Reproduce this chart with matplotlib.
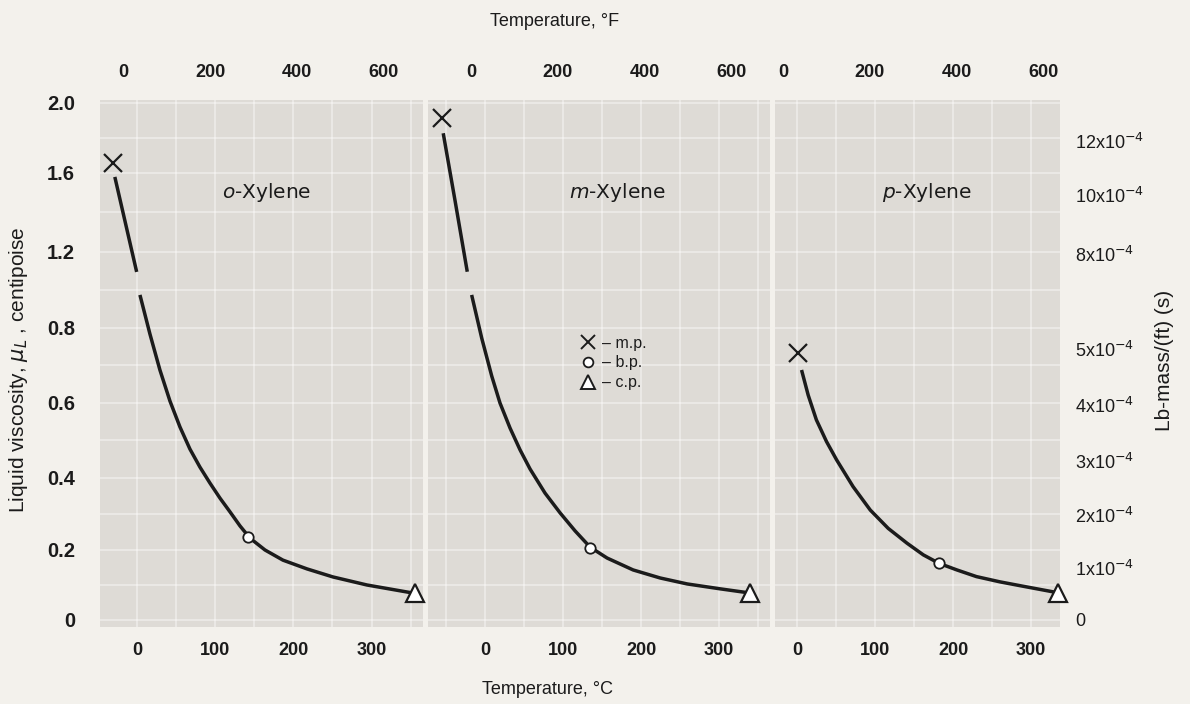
import numpy as np
import matplotlib
matplotlib.use("Agg")
import matplotlib.pyplot as plt
import matplotlib.font_manager as fm
from matplotlib.lines import Line2D
from matplotlib.ticker import FixedLocator, FixedFormatter, MultipleLocator

# ---------------- data ----------------
PANEL_PREFIX = ["o", "m", "p"]

# o-Xylene (temperature degC, viscosity cP); the drawn curve is broken near 1.0 cP
O_UP_T = [-29, -1]
O_UP_MU = [1.58, 1.095]
O_LO_T = [3.2, 16, 28.8, 41.7, 54.5, 67.3, 80.1, 92.9, 105.8, 118.6, 131.4, 144.2,
          163.5, 186.5, 217.3, 250.6, 294.2, 353.2]
O_LO_MU = [0.974, 0.784, 0.688, 0.605, 0.536, 0.477, 0.429, 0.386, 0.344, 0.306,
           0.267, 0.233, 0.200, 0.171, 0.146, 0.123, 0.100, 0.077]
O_MP = (-31, 1.657)
O_BP = (142, 0.236)
O_CP = (356, 0.077)

# m-Xylene
M_UP_T = [-53.5, -38.5, -22.7]
M_UP_MU = [1.827, 1.463, 1.096]
M_LO_T = [-17.1, -4.2, 8.6, 19.2, 32.1, 44.9, 57.7, 76.9, 96.2, 115.4, 134.6, 156.4,
          189.7, 224.4, 259.0, 301.3, 339.7]
M_LO_MU = [0.974, 0.773, 0.672, 0.600, 0.533, 0.475, 0.424, 0.358, 0.303, 0.253,
           0.208, 0.177, 0.143, 0.120, 0.103, 0.089, 0.077]
M_MP = (-55.5, 1.913)
M_BP = (135, 0.206)
M_CP = (340, 0.077)

# p-Xylene
P_T = [6, 14.5, 25, 38, 51, 72, 94, 117, 141, 162, 182, 205, 230, 260, 286, 334]
P_MU = [0.688, 0.621, 0.555, 0.497, 0.448, 0.376, 0.311, 0.260, 0.219, 0.186,
        0.162, 0.143, 0.124, 0.109, 0.098, 0.078]
P_MP = (2, 0.733)
P_BP = (182, 0.162)
P_CP = (334, 0.078)

X_TICKS_C = [0, 100, 200, 300]
X_TICKS_F = [0, 200, 400, 600]
Y_TICKS = [0, 0.2, 0.4, 0.6, 0.8, 1.2, 1.6, 2.0]
Y_TICK_LABELS = ["0", "0.2", "0.4", "0.6", "0.8", "1.2", "1.6", "2.0"]
# relative spacing of the (non-linear) viscosity scale on the original paper
Y_SCALE_POS = [0, 70, 142, 217, 292, 368, 447, 517]
LBM_TICKS = [0, 1, 2, 3, 4, 5, 8, 10, 12]          # x 1e-4 lb-mass/(ft s)
CP_TO_LBM = 6.72e-4                                 # 1 cP in lb-mass/(ft s)
LEGEND_LABELS = ["\u2013 m.p.", "\u2013 b.p.", "\u2013 c.p."]

# ---------------- styling ----------------
PAGE = "#f3f1ec"
PLOT_BG = "#dedbd6"
INK = "#1b1b1b"
names = {f.name for f in fm.fontManager.ttflist}
NARROW = "Liberation Sans Narrow" if "Liberation Sans Narrow" in names else "Liberation Sans"
REG = "Liberation Sans"

W, H = 1190, 704
PANEL_PX = [(100, 423), (428, 770), (775, 1060)]
TOP_PX, BOT_PX = 100, 627
XLIMS = [(-48, 366), (-73, 365), (-28, 337)]
YLIM = (-0.02, 2.017)


def _fwd(v):
    v = np.asarray(v, dtype=float)
    t, p = np.asarray(Y_TICKS, float), np.asarray(Y_SCALE_POS, float)
    lo = (p[1] - p[0]) / (t[1] - t[0])
    hi = (p[-1] - p[-2]) / (t[-1] - t[-2])
    out = np.interp(v, t, p)
    out = np.where(v < t[0], p[0] + (v - t[0]) * lo, out)
    out = np.where(v > t[-1], p[-1] + (v - t[-1]) * hi, out)
    return out


def _inv(u):
    u = np.asarray(u, dtype=float)
    t, p = np.asarray(Y_TICKS, float), np.asarray(Y_SCALE_POS, float)
    lo = (t[1] - t[0]) / (p[1] - p[0])
    hi = (t[-1] - t[-2]) / (p[-1] - p[-2])
    out = np.interp(u, p, t)
    out = np.where(u < p[0], t[0] + (u - p[0]) * lo, out)
    out = np.where(u > p[-1], t[-1] + (u - p[-1]) * hi, out)
    return out


def c2f(c):
    return np.asarray(c) * 9.0 / 5.0 + 32.0


def f2c(f):
    return (np.asarray(f) - 32.0) * 5.0 / 9.0


fig = plt.figure(figsize=(W / 100, H / 100), dpi=100, facecolor=PAGE)

curves = [
    [(O_UP_T, O_UP_MU), (O_LO_T, O_LO_MU)],
    [(M_UP_T, M_UP_MU), (M_LO_T, M_LO_MU)],
    [(P_T, P_MU)],
]
points = [(O_MP, O_BP, O_CP), (M_MP, M_BP, M_CP), (P_MP, P_BP, P_CP)]

y_minor = [(a + b) / 2 for a, b in zip(Y_TICKS[:-1], Y_TICKS[1:])]

axes = []
for i, (l, r) in enumerate(PANEL_PX):
    ax = fig.add_axes([l / W, 1 - BOT_PX / H, (r - l) / W, (BOT_PX - TOP_PX) / H])
    axes.append(ax)
    ax.set_facecolor(PLOT_BG)
    ax.set_yscale("function", functions=(_fwd, _inv))
    ax.set_ylim(*YLIM)
    ax.set_xlim(*XLIMS[i])
    for s in ax.spines.values():
        s.set_visible(False)
    # graph-paper grid
    ax.yaxis.set_major_locator(FixedLocator(Y_TICKS))
    ax.yaxis.set_minor_locator(FixedLocator(y_minor))
    ax.xaxis.set_major_locator(FixedLocator(X_TICKS_C))
    ax.xaxis.set_minor_locator(MultipleLocator(50))
    ax.grid(which="both", color="white", linewidth=1.1, alpha=0.5)
    ax.set_axisbelow(True)
    ax.tick_params(which="both", length=0)
    ax.tick_params(axis="x", pad=11, labelsize=13, labelcolor=INK)
    for lab in ax.get_xticklabels():
        lab.set_fontfamily(NARROW)
        lab.set_fontweight("bold")
    if i == 0:
        ax.yaxis.set_major_formatter(FixedFormatter(Y_TICK_LABELS))
        ax.tick_params(axis="y", pad=18, labelsize=14.5, labelcolor=INK)
        for lab in ax.get_yticklabels():
            lab.set_fontfamily(NARROW)
            lab.set_fontweight("bold")
    else:
        ax.tick_params(axis="y", labelleft=False)

    # curves
    for t, mu in curves[i]:
        ax.plot(t, mu, color=INK, linewidth=2.5, solid_capstyle="butt",
                solid_joinstyle="round", zorder=3)
    mp, bp, cp = points[i]
    ax.plot(*mp, marker="x", markersize=13, markeredgewidth=1.6, color=INK,
            linestyle="none", zorder=4, clip_on=False)
    ax.plot(*bp, marker="o", markersize=7.5, markeredgewidth=1.3, markeredgecolor=INK,
            markerfacecolor="white", linestyle="none", zorder=4)
    ax.plot(*cp, marker="^", markersize=13, markeredgewidth=1.6, markeredgecolor=INK,
            markerfacecolor="white", linestyle="none", zorder=4, clip_on=False)

    # top Fahrenheit scale
    sec = ax.secondary_xaxis("top", functions=(c2f, f2c))
    sec.set_xticks(X_TICKS_F)
    sec.set_xticklabels([str(v) for v in X_TICKS_F])
    sec.tick_params(length=0, pad=14, labelsize=13, labelcolor=INK)
    for lab in sec.get_xticklabels():
        lab.set_fontfamily(NARROW)
        lab.set_fontweight("bold")
    for s in sec.spines.values():
        s.set_visible(False)

# panel names
name_x = [267, 617, 927]
for i, ax in enumerate(axes):
    fig.text(name_x[i] / W, 1 - 193 / H,
             r"$\mathit{%s}$-Xylene" % PANEL_PREFIX[i],
             ha="center", va="center", fontsize=14.5, color=INK, family="DejaVu Sans")

# right-hand scale, lb-mass/(ft)(s)
axr = axes[2].twinx()
axr.set_yscale("function", functions=(_fwd, _inv))
axr.set_ylim(*YLIM)
axr.set_yticks([n * 1e-4 / CP_TO_LBM for n in LBM_TICKS])
axr.set_yticklabels(["0" if n == 0 else r"%dx10$^{-4}$" % n for n in LBM_TICKS])
axr.tick_params(length=0, pad=11, labelsize=13, labelcolor=INK)
for lab in axr.get_yticklabels():
    lab.set_fontfamily(NARROW)
for s in axr.spines.values():
    s.set_visible(False)

# legend in the middle panel
handles = [
    Line2D([], [], marker="x", linestyle="none", color=INK, markersize=10, markeredgewidth=1.4),
    Line2D([], [], marker="o", linestyle="none", markerfacecolor="white", markeredgecolor=INK,
           markersize=7, markeredgewidth=1.3),
    Line2D([], [], marker="^", linestyle="none", markerfacecolor="white", markeredgecolor=INK,
           markersize=10, markeredgewidth=1.4),
]
axes[1].legend(handles, LEGEND_LABELS, loc="upper left", bbox_to_anchor=(0.42, 0.568),
               frameon=False, handlelength=1.0, handletextpad=0.4, labelspacing=0.3,
               borderpad=0, prop={"family": REG, "size": 11.5}, labelcolor=INK)

# axis titles
fig.text(555 / W, 1 - 22 / H, "Temperature, \u00b0F", ha="center", va="center",
         fontsize=13, family=REG, color=INK)
fig.text(548 / W, 1 - 690 / H, "Temperature, \u00b0C", ha="center", va="center",
         fontsize=13, family=REG, color=INK)
fig.text(19 / W, 1 - 370 / H, r"Liquid viscosity, $\mu_L$ , centipoise", ha="center",
         va="center", rotation=90, fontsize=15, family=REG, color=INK)
fig.text(1165 / W, 1 - 360 / H, "Lb-mass/(ft) (s)", ha="center", va="center",
         rotation=90, fontsize=15, family=REG, color=INK)

fig.savefig("out.png", dpi=100, facecolor=PAGE)
